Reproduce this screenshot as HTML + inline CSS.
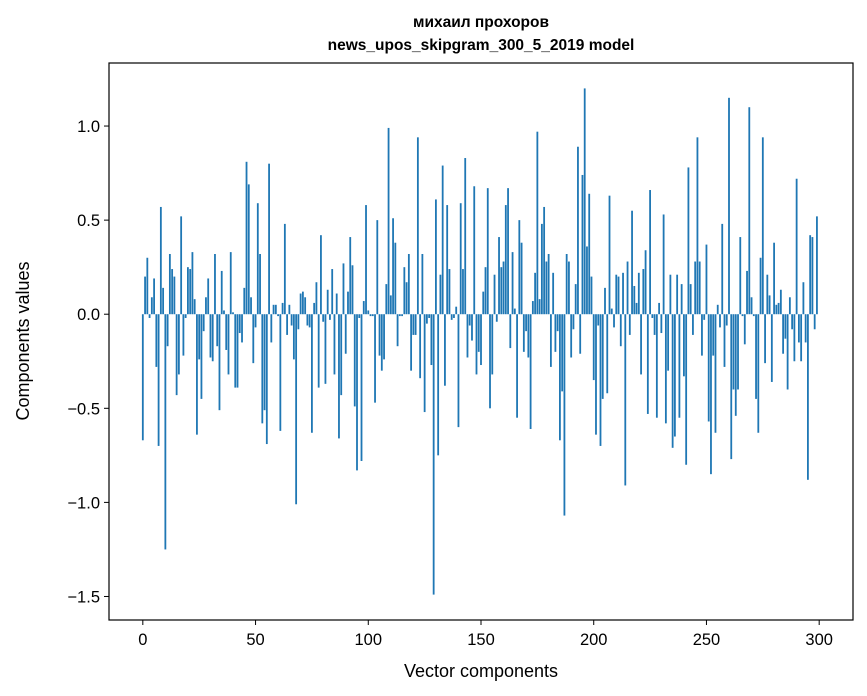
<!DOCTYPE html>
<html><head><meta charset="utf-8"><style>
body{margin:0;background:#fff;}
svg{display:block;font-family:"Liberation Sans","DejaVu Sans",sans-serif;}
</style></head><body>
<svg id="chart" width="867" height="696" viewBox="0 0 867 696" xmlns="http://www.w3.org/2000/svg">
<rect width="867" height="696" fill="#fff"/>
<text x="481" y="27" text-anchor="middle" font-size="15.5" font-weight="bold">михаил прохоров</text>
<text x="481" y="50" text-anchor="middle" font-size="15.5" font-weight="bold">news_upos_skipgram_300_5_2019 model</text>
<g id="bars"></g>
<rect x="109" y="63" width="744" height="557" fill="none" stroke="#000" stroke-width="1.2"/>
<g id="xticks"></g>
<g id="yticks"></g>
<text x="481" y="677" text-anchor="middle" font-size="18">Vector components</text>
<text transform="translate(29,341) rotate(-90)" text-anchor="middle" font-size="18">Components values</text>
</svg>
<script>
const values = [
-0.67,0.20,0.30,-0.02,0.09,0.19,-0.28,-0.70,0.57,0.14,
-1.25,-0.17,0.32,0.24,0.20,-0.43,-0.32,0.52,-0.22,-0.02,
0.25,0.24,0.33,0.08,-0.64,-0.24,-0.45,-0.09,0.09,0.19,
-0.23,-0.25,0.32,-0.17,-0.51,0.23,0.02,-0.19,-0.32,0.33,
0.01,-0.39,-0.39,-0.10,-0.15,0.14,0.81,0.69,0.09,-0.26,
-0.07,0.59,0.32,-0.58,-0.51,-0.69,0.80,-0.15,0.05,0.05,
-0.01,-0.62,0.06,0.48,-0.11,0.05,-0.06,-0.24,-1.01,-0.08,
0.11,0.12,0.09,-0.06,-0.07,-0.63,0.06,0.17,-0.39,0.42,
-0.04,-0.37,0.13,-0.03,0.24,-0.32,0.11,-0.66,-0.43,0.27,
-0.21,0.12,0.41,0.26,-0.49,-0.83,-0.02,-0.78,0.07,0.58,
0.02,-0.01,-0.01,-0.47,0.50,-0.22,-0.30,-0.24,0.16,0.99,
0.10,0.51,0.38,-0.17,-0.01,-0.01,0.25,0.17,0.32,-0.30,
-0.11,-0.11,0.94,-0.34,0.32,-0.52,-0.05,-0.02,-0.27,-1.49,
0.61,-0.75,0.21,0.79,-0.38,0.58,0.24,-0.03,-0.02,0.04,
-0.60,0.59,0.24,0.83,-0.23,-0.06,-0.14,0.68,-0.32,-0.20,
-0.27,0.12,0.25,0.67,-0.50,-0.32,0.21,-0.04,0.41,0.25,
0.28,0.58,0.67,-0.18,0.33,0.03,-0.55,0.50,0.38,-0.20,
-0.09,-0.23,-0.61,0.07,0.22,0.97,0.08,0.48,0.57,0.28,
0.32,-0.28,0.22,-0.20,-0.09,-0.67,-0.41,-1.07,0.32,0.28,
-0.23,-0.08,0.16,0.89,-0.21,0.74,1.20,0.36,0.64,0.20,
-0.35,-0.64,-0.06,-0.70,-0.45,0.14,-0.42,0.63,0.03,-0.07,
0.21,0.20,-0.17,0.22,-0.91,0.28,-0.11,0.55,0.15,0.06,
0.22,-0.32,0.24,0.34,-0.53,0.66,-0.02,-0.11,-0.55,0.06,
-0.10,0.53,-0.58,-0.30,0.21,-0.71,-0.65,0.21,-0.55,0.16,
-0.33,-0.80,0.78,0.16,-0.11,0.28,0.94,0.28,-0.22,-0.03,
0.37,-0.57,-0.85,-0.22,-0.63,0.05,-0.07,0.48,-0.28,-0.06,
1.15,-0.77,-0.40,-0.54,-0.40,0.41,-0.01,-0.16,0.23,1.10,
0.09,-0.01,-0.45,-0.63,0.30,0.94,-0.26,0.21,0.10,-0.36,
0.38,0.05,0.06,0.13,-0.21,-0.13,-0.40,0.09,-0.08,-0.25,
0.72,-0.15,-0.25,0.17,-0.15,-0.88,0.42,0.41,-0.08,0.52
];
const xTickValues = [0,50,100,150,200,250,300];
const yTickValues = [-1.5,-1.0,-0.5,0.0,0.5,1.0];
const yTickLabels = ["\u22121.5","\u22121.0","\u22120.5","0.0","0.5","1.0"];

const NS="http://www.w3.org/2000/svg";
const L=109,R=853,T=63,B=620;
const xmin=-15,xmax=315,ymin=-1.625,ymax=1.335;
function xs(v){return L+(v-xmin)/(xmax-xmin)*(R-L);}
function ys(v){return B-(v-ymin)/(ymax-ymin)*(B-T);}

const bars=document.getElementById('bars');
values.forEach((v,i)=>{
  const r=document.createElementNS(NS,'rect');
  const x0=xs(i-0.4),x1=xs(i+0.4);
  const y0=ys(Math.max(v,0)),y1=ys(Math.min(v,0));
  r.setAttribute('x',x0);r.setAttribute('width',x1-x0);
  r.setAttribute('y',y0);r.setAttribute('height',Math.max(y1-y0,0.01));
  r.setAttribute('fill','#1f77b4');
  
  
  bars.appendChild(r);
});

const xg=document.getElementById('xticks');
xTickValues.forEach(v=>{
  const x=xs(v);
  const l=document.createElementNS(NS,'line');
  l.setAttribute('x1',x);l.setAttribute('x2',x);l.setAttribute('y1',B);l.setAttribute('y2',B+5);
  l.setAttribute('stroke','#000');l.setAttribute('stroke-width','1');
  
  
  xg.appendChild(l);
  const t=document.createElementNS(NS,'text');
  t.setAttribute('x',x);t.setAttribute('y',B+25);t.setAttribute('text-anchor','middle');t.setAttribute('font-size','16.5');
  t.textContent=String(v);
  
  
  xg.appendChild(t);
});
const yg=document.getElementById('yticks');
yTickValues.forEach((v,k)=>{
  const y=ys(v);
  const l=document.createElementNS(NS,'line');
  l.setAttribute('x1',L-5);l.setAttribute('x2',L);l.setAttribute('y1',y);l.setAttribute('y2',y);
  l.setAttribute('stroke','#000');l.setAttribute('stroke-width','1');
  
  
  yg.appendChild(l);
  const t=document.createElementNS(NS,'text');
  t.setAttribute('x',L-9);t.setAttribute('y',y+6);t.setAttribute('text-anchor','end');t.setAttribute('font-size','16.5');
  t.textContent=yTickLabels[k];
  
  
  yg.appendChild(t);
});
</script>
</body></html>
